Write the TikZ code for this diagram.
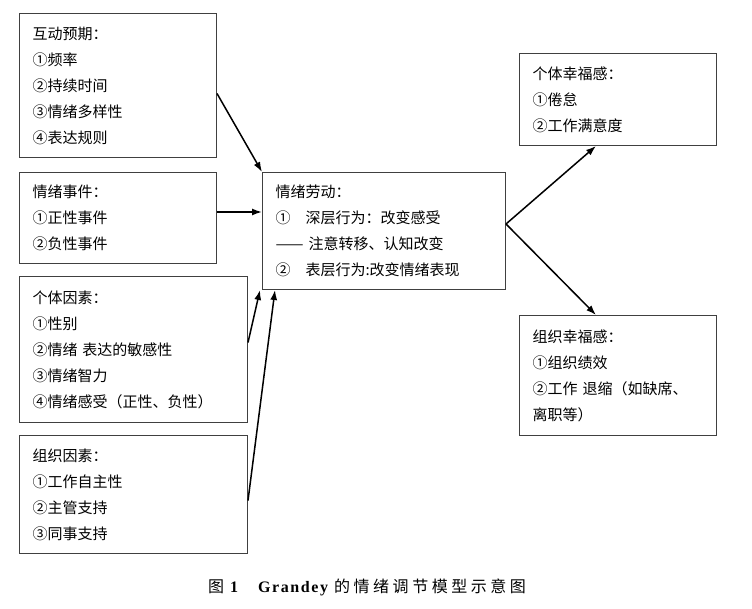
\documentclass[tikz,border=0pt]{standalone}
\usepackage{fontspec}
\setmainfont{Liberation Serif}
\newfontfamily\cjk{Noto Sans CJK SC}
\newfontfamily\cjkcap{Noto Sans CJK SC}[LetterSpace=22]
\usetikzlibrary{arrows.meta}
\newcommand{\nr}[1]{\makebox[1em][l]{#1}}

\begin{document}
\begin{tikzpicture}[x=1pt, y=-1pt,
	box/.style={draw=black!75, line width=1pt, anchor=north west, inner xsep=13pt, inner ysep=0pt, align=left, font=\cjk\fontsize{15}{26}\selectfont},
	arr/.style={-{Latex[length=10pt,width=7pt]}, line width=1.5pt}]
	\useasboundingbox (0,0) rectangle (752,609);
	\node[box, text width=171pt, minimum height=144pt] (hudong) at (19,13)
		{互动预期：\\\nr{①}频率\\\nr{②}持续时间\\\nr{③}情绪多样性\\\nr{④}表达规则};
	\node[box, text width=171pt, minimum height=91pt] (shijian) at (19,172)
		{情绪事件：\\\nr{①}正性事件\\\nr{②}负性事件};
	\node[box, text width=202pt, minimum height=146pt] (geti) at (19,276)
		{个体因素：\\\nr{①}性别\\\nr{②}情绪 表达的敏感性\\\nr{③}情绪智力\\\nr{④}情绪感受（正性、负性）};
	\node[box, text width=202pt, minimum height=118pt] (zuzhi) at (19,435)
		{组织因素：\\\nr{①}工作自主性\\\nr{②}主管支持\\\nr{③}同事支持};
	\node[box, text width=217pt, minimum height=117pt] (laodong) at (262,172)
		{情绪劳动：\\\nr{①}\hspace{15pt}深层行为：改变感受\\\resizebox{28pt}{\height}{——}\hspace{5pt}注意转移、认知改变\\\nr{②}\hspace{15pt}表层行为:改变情绪表现};
	\node[box, text width=171pt, minimum height=92pt] (gerenxf) at (519,53)
		{个体幸福感：\\\nr{①}倦怠\\\nr{②}工作满意度};
	\node[box, text width=171pt, minimum height=120pt] (zuzhixf) at (519,315)
		{组织幸福感：\\\nr{①}组织绩效\\\nr{②}工作 退缩（如缺席、\\离职等）};
	\node[font=\fontsize{16}{16}\selectfont] (caption) at (367,587)
		{{\cjk 图}\hspace{6pt}\textbf{1}\hspace{20pt}{\bfseries\addfontfeature{LetterSpace=10}Grandey}\hspace{6pt}{\cjkcap 的情绪调节模型示意图}};
	\draw[arr] ([yshift=-8pt]hudong.east) -- (laodong.north west);
	\draw[arr] ([yshift=6pt]shijian.east) -- ([yshift=6pt]shijian.east -| laodong.west);
	\draw[arr] ([yshift=7pt]geti.east) -- ([xshift=-2pt]laodong.south west);
	\draw[arr] ([yshift=-6pt]zuzhi.east) -- ([xshift=13pt]laodong.south west);
	\draw[arr] ([yshift=7pt]laodong.east) -- ([xshift=-22pt]gerenxf.south);
	\draw[arr] ([yshift=7pt]laodong.east) -- ([xshift=-22pt]zuzhixf.north);
\end{tikzpicture}
\end{document}
